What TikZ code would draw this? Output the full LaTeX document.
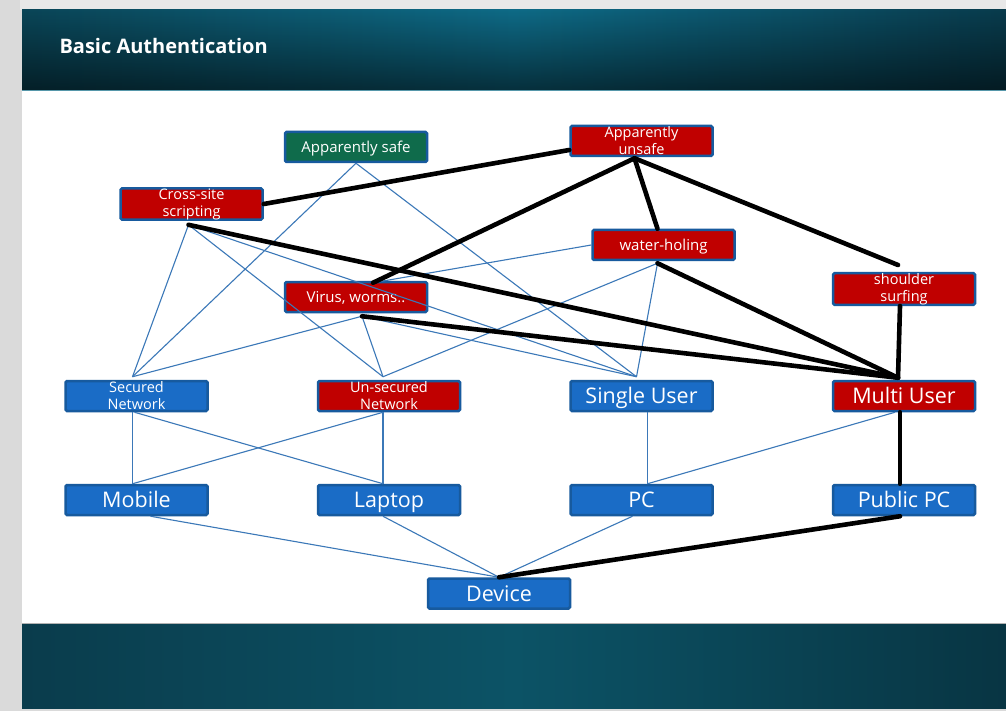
\documentclass[tikz,border=0pt]{standalone}
\usepackage{fontspec}
\setmainfont{Open Sans}
\usetikzlibrary{calc,fadings}

\definecolor{pagegray}{HTML}{DADADA}
\definecolor{topgray}{HTML}{E8E8E8}
\definecolor{bannerL}{HTML}{0A4557}
\definecolor{bannerM}{HTML}{0E6A86}
\definecolor{bannerR}{HTML}{093B4C}
\definecolor{footL}{HTML}{0A3C4C}
\definecolor{footM}{HTML}{0C5366}
\definecolor{footR}{HTML}{083543}
\definecolor{boxline}{HTML}{175A9E}
\definecolor{nodeblue}{HTML}{1A6CC6}
\definecolor{threatred}{HTML}{C00000}
\definecolor{safegreen}{HTML}{0F6B4B}
\definecolor{linkblue}{HTML}{3B78B8}

\tikzfading[name=darkbelow, top color=transparent!100, bottom color=transparent!45]

\tikzset{
  box/.style={draw=boxline, line width=2.5pt, rounded corners=1.5pt,
    minimum width=142pt, minimum height=30pt, inner sep=0pt,
    text=white, align=center},
  redbox/.style={box, fill=threatred},
  bluebox/.style={box, fill=nodeblue},
  greenbox/.style={box, fill=safegreen},
  % one-line labels: capitals centred in the box
  onetxt/.style={font=\fontsize{15}{17}\selectfont, text height=10.7pt, text depth=0pt},
  smalltxt/.style={font=\fontsize{14.5}{17}\selectfont},
  bigtxt/.style={font=\fontsize{21.5}{24}\selectfont, text height=15.3pt, text depth=0pt},
  lnk/.style={draw=linkblue, line width=1.1pt},
  hvy/.style={draw=black, line width=4.6pt, line cap=round},
}

\begin{document}
\begin{tikzpicture}[x=1pt,y=-1pt]
\useasboundingbox (0,0) rectangle (1006,711);

% slide frame
\fill[pagegray] (0,0) rectangle (1006,711);
\fill[topgray] (20,0) rectangle (1006,10);
\fill[white] (22,90) rectangle (1006,623);

% header and footer bands
\shade[left color=bannerL, right color=bannerR, middle color=bannerM]
  (22,10) rectangle (1006,90);
\fill[black, path fading=darkbelow] (22,10) rectangle (1006,90);
\draw[color=bannerM!70!white, line width=0.8pt] (22,90) -- (1006,90);
\shade[left color=footL, right color=footR, middle color=footM]
  (22,623) rectangle (1006,708);
\draw[color=gray!60, line width=0.8pt] (22,623) -- (1006,623);

\node[anchor=west, text=white, font=\bfseries\fontsize{20}{24}\selectfont]
  (title) at (56,46) {Basic Authentication};

% threat nodes
\node[greenbox, onetxt]   (safe)     at (356,147)   {Apparently safe};
\node[redbox, smalltxt]   (unsafe)   at (641.5,141) {Apparently\\unsafe};
\node[redbox, smalltxt]   (xss)      at (191.5,204) {Cross-site\\scripting};
\node[redbox, onetxt]     (water)    at (663.5,245) {water-holing};
\node[redbox, smalltxt]   (shoulder) at (904,289)   {shoulder\\surfing};
\node[redbox, onetxt]     (virus)    at (356,297)   {Virus, worms..};

% network and user nodes
\node[bluebox, smalltxt] (secnet) at (136.5,396) {Secured\\Network};
\node[redbox, smalltxt]  (unsec)  at (389,396)   {Un-secured\\Network};
\node[bluebox, bigtxt]   (single) at (641.5,396) {Single User};
\node[redbox, bigtxt]    (multi)  at (904,396)   {Multi User};

% device nodes
\node[bluebox, bigtxt] (mobile) at (136.5,500) {Mobile};
\node[bluebox, bigtxt] (laptop) at (389,500)   {Laptop};
\node[bluebox, bigtxt] (pc)     at (641.5,500) {PC};
\node[bluebox, bigtxt] (public) at (904,500)   {Public PC};
\node[bluebox, bigtxt] (device) at (499,593.5) {Device};

% attachment points
\coordinate (secTop)    at ([xshift=-4pt,yshift=3pt]secnet.north);
\coordinate (unsecTop)  at ([xshift=-6pt,yshift=3pt]unsec.north);
\coordinate (singleTop) at ([xshift=-5pt,yshift=3pt]single.north);
\coordinate (multiTop)  at ([xshift=-6pt,yshift=2pt]multi.north);
\coordinate (xssBot)    at ([xshift=-3pt,yshift=-4pt]xss.south);
\coordinate (virBot)    at ([xshift=6pt,yshift=-3pt]virus.south);
\coordinate (virTop)    at ([xshift=17pt,yshift=-2pt]virus.north);
\coordinate (watBot)    at ([xshift=-6pt,yshift=-2pt]water.south);
\coordinate (unsafeBot) at ([xshift=-7pt,yshift=-1pt]unsafe.south);

% thin links, upper part
\draw[lnk] (safe.south) -- (secTop);
\draw[lnk] (safe.south) -- (singleTop);
\draw[lnk] (xssBot) -- (secTop);
\draw[lnk] (xssBot) -- (unsecTop);
\draw[lnk] (xssBot) -- (singleTop);
\draw[lnk] (virBot) -- (secTop);
\draw[lnk] (virBot) -- (unsecTop);
\draw[lnk] (virBot) -- (singleTop);
\draw[lnk] (watBot) -- (unsecTop);
\draw[lnk] (watBot) -- (singleTop);
\draw[lnk] (water.west) -- (virTop);

% thin links, lower part
\draw[lnk] ([xshift=-4pt]secnet.south) -- ([xshift=-4pt]mobile.north);
\draw[lnk] ([xshift=-2pt]secnet.south) -- ([xshift=-6pt]laptop.north);
\draw[lnk] ([xshift=-6pt]unsec.south) -- ([xshift=-4pt]mobile.north);
\draw[lnk] ([xshift=-6pt]unsec.south) -- ([xshift=-6pt]laptop.north);
\draw[lnk] ([xshift=6pt]single.south) -- ([xshift=6pt]pc.north);
\draw[lnk] ([xshift=-9pt]multi.south) -- ([xshift=6pt]pc.north);
\draw[lnk] ([xshift=14pt]mobile.south) -- (device.north);
\draw[lnk] ([xshift=-6pt]laptop.south) -- (device.north);
\draw[lnk] ([xshift=-9pt]pc.south) -- (device.north);

% heavy links: the unsafe paths
\draw[hvy] (xss.east) -- ([yshift=-9pt]unsafe.west);
\draw[hvy] (unsafeBot) -- (virTop);
\draw[hvy] (unsafeBot) -- ([xshift=-6pt]water.north);
\draw[hvy] (unsafeBot) -- ([xshift=-6pt,yshift=7pt]shoulder.north);
\draw[hvy] (xssBot) -- (multiTop);
\draw[hvy] (virBot) -- (multiTop);
\draw[hvy] (watBot) -- (multiTop);
\draw[hvy] ([xshift=-4pt]shoulder.south) -- (multiTop);
\draw[hvy] ([xshift=-4pt]multi.south) -- ([xshift=-4pt]public.north);
\draw[hvy] ([xshift=-4pt]public.south) -- (device.north);
\end{tikzpicture}
\end{document}
